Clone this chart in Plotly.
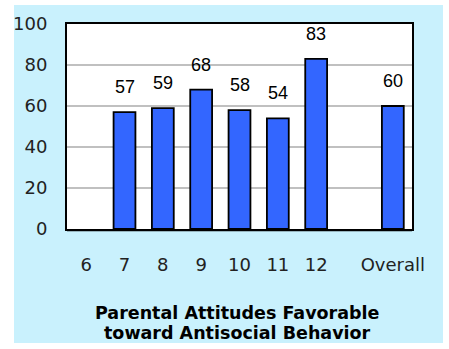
import plotly.graph_objects as go

# Grade categories, with a blank spacer before the overall bar
categories = ["6", "7", "8", "9", "10", "11", "12", " ", "Overall"]
bar_grades = ["6", "7", "8", "9", "10", "11", "12", "Overall"]
bar_values = [None, 57, 59, 68, 58, 54, 83, 60]
y_ticks = [0, 20, 40, 60, 80, 100]

title_lines = ["Parental Attitudes Favorable", "toward Antisocial Behavior"]

W, H = 449, 349
L, R, T, B = 67, 412, 24, 229  # plot area in pixels

fig = go.Figure()
fig.add_trace(go.Bar(
    x=bar_grades,
    y=bar_values,
    marker=dict(color="#3366FF", line=dict(color="black", width=1.8)),
    hoverinfo="x+y",
))

# value labels above the bars (positioned by category index)
for g, v in zip(bar_grades, bar_values):
    if v is None:
        continue
    fig.add_annotation(
        x=categories.index(g), y=v, text=str(v), showarrow=False, yanchor="bottom",
        yshift=13, font=dict(family="Liberation Sans, Arial", size=18, color="black"),
    )

pw, ph = R - L, B - T
def px_x(x):
    return (x - L) / pw
def px_y(y):
    return (B - y) / ph

# light-blue panel behind the chart
fig.add_shape(type="rect", xref="paper", yref="paper", layer="below",
              x0=px_x(14), x1=px_x(443), y0=px_y(343), y1=px_y(5),
              fillcolor="#C9F1FD", line=dict(width=0))
# white plot area
fig.add_shape(type="rect", xref="paper", yref="paper", layer="below",
              x0=0, x1=1, y0=0, y1=1, fillcolor="white", line=dict(width=0))
# slight shadow along the bottom edge of the frame
fig.add_shape(type="line", xref="paper", yref="paper", layer="above",
              x0=0, x1=1, y0=px_y(230.5), y1=px_y(230.5),
              line=dict(color="black", width=1.5))

# two-line caption below the axis
for line, ypix in zip(title_lines, [313, 333]):
    fig.add_annotation(
        x=px_x(237), y=px_y(ypix), xref="paper", yref="paper",
        text="<b>" + line + "</b>",
        showarrow=False, xanchor="center", yanchor="middle",
        font=dict(family="DejaVu Sans", size=17.5, color="black"),
    )

fig.update_layout(
    width=W, height=H,
    margin=dict(l=L, r=W - R, t=T, b=H - B, pad=0),
    paper_bgcolor="white",
    plot_bgcolor="rgba(0,0,0,0)",
    bargap=0.43,
    showlegend=False,
    font=dict(family="DejaVu Sans", size=18, color="#222222"),
)
fig.update_xaxes(
    type="category", categoryorder="array", categoryarray=categories,
    range=[-0.5, len(categories) - 0.5],
    tickvals=categories, ticktext=categories, tickangle=0,
    showline=True, linecolor="black", linewidth=2, mirror=True,
    showgrid=False, ticks="", ticklabelstandoff=18,
    tickfont=dict(family="DejaVu Sans", size=18, color="#222222"),
)
fig.update_yaxes(
    range=[0, 100], tickvals=y_ticks,
    showline=True, linecolor="black", linewidth=2, mirror=True,
    showgrid=True, gridcolor="#C0C0C0", gridwidth=1.5,
    zeroline=False, ticks="", ticklabelstandoff=14,
    tickfont=dict(family="DejaVu Sans", size=18, color="#222222"),
)

fig.write_html("out.html")
